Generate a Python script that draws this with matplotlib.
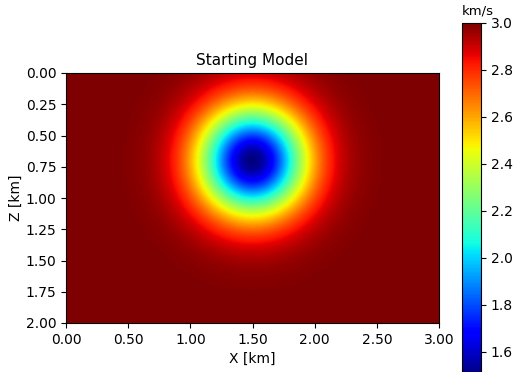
import numpy as np
import matplotlib
matplotlib.use("Agg")
import matplotlib.pyplot as plt

# Model description
x_extent = [0.0, 3.0]          # km
z_extent = [0.0, 2.0]          # km
background_velocity = 3.0      # km/s
anomaly_center = [1.5, 0.7]    # km (x, z)
anomaly_amplitude = 1.5        # km/s velocity drop at centre
anomaly_sigma = 0.31           # km
vmin, vmax = 1.5, 3.0

xticks = [0.0, 0.5, 1.0, 1.5, 2.0, 2.5, 3.0]
zticks = [0.0, 0.25, 0.5, 0.75, 1.0, 1.25, 1.5, 1.75, 2.0]
cticks = [1.6, 1.8, 2.0, 2.2, 2.4, 2.6, 2.8, 3.0]

nx, nz = 301, 201
x = np.linspace(x_extent[0], x_extent[1], nx)
z = np.linspace(z_extent[0], z_extent[1], nz)
X, Z = np.meshgrid(x, z)
r2 = (X - anomaly_center[0]) ** 2 + (Z - anomaly_center[1]) ** 2
vel = background_velocity - anomaly_amplitude * np.exp(-r2 / (2 * anomaly_sigma ** 2))

fig = plt.figure(figsize=(5.13, 3.72), dpi=100)
ax = fig.add_axes([66 / 513, 49 / 372, 373 / 513, 250 / 372])
im = ax.imshow(vel, cmap="jet", vmin=vmin, vmax=vmax, aspect="auto",
               extent=[x_extent[0], x_extent[1], z_extent[1], z_extent[0]],
               interpolation="bilinear")
ax.set_xticks(xticks)
ax.set_yticks(zticks)
ax.set_xticklabels([f"{t:.2f}" for t in xticks])
ax.set_yticklabels([f"{t:.2f}" for t in zticks])
ax.set_xlabel("X [km]")
ax.set_ylabel("Z [km]", labelpad=2)
ax.set_title("Starting Model", fontsize=11)

cax = fig.add_axes([462 / 513, -3 / 372, 19 / 513, 352 / 372])
cb = fig.colorbar(im, cax=cax, ticks=cticks)
cb.ax.set_yticklabels([f"{t:.1f}" for t in cticks])
cax.set_title("km/s", fontsize=9.5, loc="left", pad=6)

fig.savefig("out.png", dpi=100)
